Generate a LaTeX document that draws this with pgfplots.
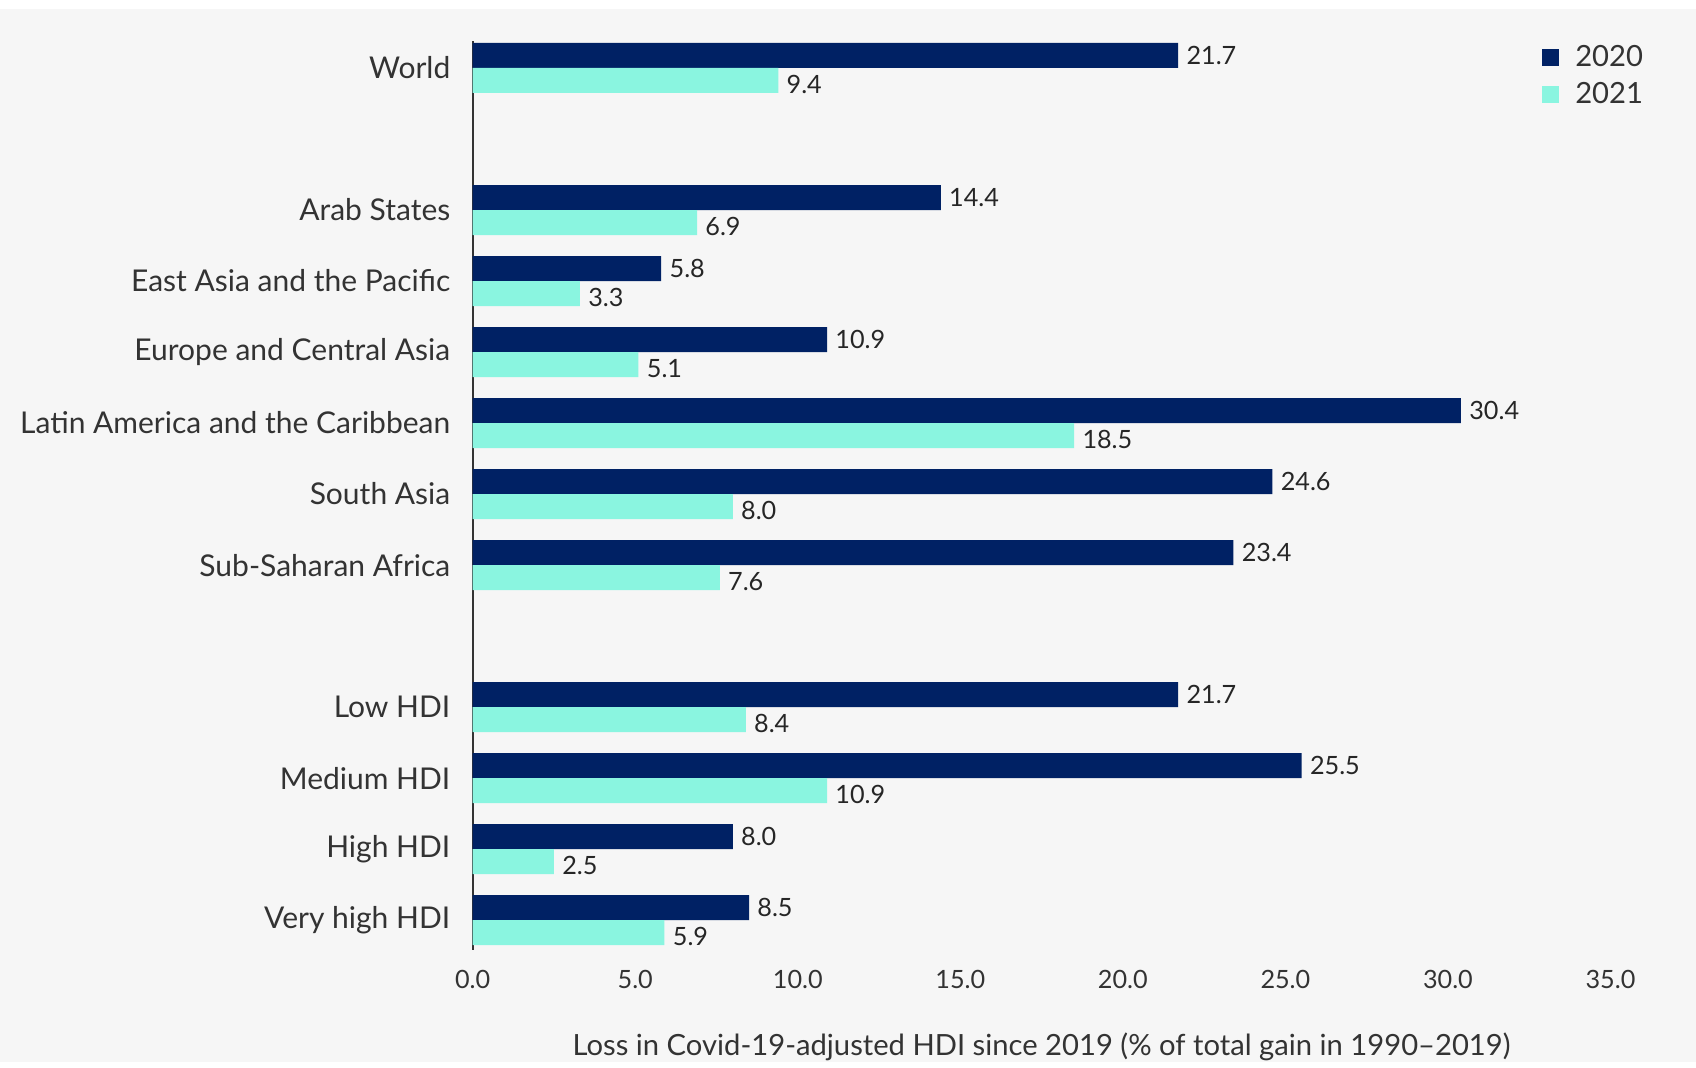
\documentclass[border=0pt]{standalone}
\usepackage{fontspec}
\setmainfont{Lato}
\usepackage{pgfplots}
\pgfplotsset{compat=1.18}

\definecolor{navy}{HTML}{002164}
\definecolor{aqua}{HTML}{8AF5E0}
\definecolor{bg}{HTML}{F6F6F6}
\definecolor{txt}{HTML}{333333}

\newcommand\catfont{\fontsize{15bp}{17bp}\selectfont}
\newcommand\legfont{\fontsize{14.6bp}{17bp}\selectfont}
\newcommand\numfont{\fontsize{12.6bp}{15bp}\selectfont}

\begin{document}
\begin{tikzpicture}
% page background, axis box starts at (0,0)
\fill[bg] (-236.35bp,-56bp) rectangle (611.65bp,475bp);
\fill[white] (-236.35bp,470.5bp) rectangle (611.65bp,475bp);
\begin{axis}[
  scale only axis,
  width=568.9bp, height=454.5bp,
  xbar, bar width=12.5bp,
  xmin=0, xmax=35, ymin=-0.42, ymax=12.38,
  clip=false,
  axis lines=left,
  axis line style={-, draw=txt, line width=1bp},
  x axis line style={draw=none},
  major tick length=0pt,
  /pgf/number format/assume math mode=true,
  xtick={0,5,...,35},
  xticklabel style={/pgf/number format/.cd, fixed, fixed zerofill, precision=1,
    /tikz/.cd, font=\numfont, text=txt, inner sep=0pt, yshift=-9.75bp},
  ytick={0,1,2,3,5,6,7,8,9,10,12},
  yticklabels={Very high HDI, High HDI, Medium HDI, Low HDI, Sub-Saharan Africa,
    South Asia, Latin America and the Caribbean, Europe and Central Asia,
    East Asia and the Pacific, Arab States, World},
  yticklabel style={font=\catfont, text=txt, inner sep=0pt, xshift=-11bp},
  xlabel={Loss in Covid-19-adjusted HDI since 2019 (\% of total gain in 1990--2019)},
  xlabel style={font=\legfont, text=txt, at={(axis description cs:0.5,0)},
    anchor=center, yshift=-48.5bp},
  point meta=x,
  nodes near coords={\pgfmathprintnumber[fixed,fixed zerofill,precision=1]{\pgfplotspointmeta}},
  every node near coord/.append style={font=\numfont, text=black!85, anchor=west,
    inner sep=0pt, xshift=4bp},
  legend style={at={(0.9397,1.0035)}, anchor=north west, draw=none, fill=none,
    inner sep=0pt, row sep=0pt, font=\legfont, text=txt,
    cells={anchor=west, inner sep=0pt, minimum height=18.8bp}},
  legend image code/.code={
    \fill[#1, draw=none] (0bp,-4.25bp) rectangle (8.5bp,4.25bp);
    \path[draw=none, fill=none] (0bp,0bp) rectangle (14.5bp,0.1bp);},
]
\addplot[fill=navy, draw=none, bar shift=6.25bp] coordinates {
  (21.7,12) (14.4,10) (5.8,9) (10.9,8) (30.4,7) (24.6,6) (23.4,5)
  (21.7,3) (25.5,2) (8.0,1) (8.5,0)
};
\addplot[fill=aqua, draw=none, bar shift=-6.25bp,
  every node near coord/.append style={yshift=-2bp}] coordinates {
  (9.4,12) (6.9,10) (3.3,9) (5.1,8) (18.5,7) (8.0,6) (7.6,5)
  (8.4,3) (10.9,2) (2.5,1) (5.9,0)
};
\legend{2020,2021}
\end{axis}
\end{tikzpicture}
\end{document}
